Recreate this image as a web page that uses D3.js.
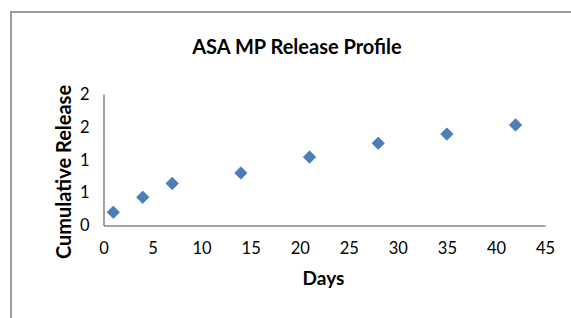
<!DOCTYPE html>
<html>
<head>
<meta charset="utf-8">
<script src="https://cdn.jsdelivr.net/npm/d3@7"></script>
<style>
  html, body { margin: 0; padding: 0; background: #fff; }
  svg { display: block; }
  text { font-family: Lato, "Open Sans", sans-serif; fill: #000; }
</style>
</head>
<body>
<svg id="chart" width="571" height="318"></svg>
<script>
const days = [1, 4, 7, 14, 21, 28, 35, 42];
const release = [0.20, 0.43, 0.64, 0.80, 1.04, 1.25, 1.39, 1.53];
const xTicks = [0, 5, 10, 15, 20, 25, 30, 35, 40, 45];
const yTicks = [0, 0.5, 1, 1.5, 2];
const yTickLabels = ["0", "1", "1", "2", "2"];
const title = "ASA MP Release Profile";
const xTitle = "Days";
const yTitle = "Cumulative Release";

const svg = d3.select("#chart");

// outer chart frame
svg.append("rect")
  .attr("x", 11).attr("y", 12)
  .attr("width", 620).attr("height", 400)
  .attr("fill", "none")
  .attr("stroke", "#9c9c9c")
  .attr("stroke-width", 2);

const x = d3.scaleLinear().domain([0, 45]).range([103.5, 545]);
const y = d3.scaleLinear().domain([0, 2]).range([225.5, 94]);

// x axis
const xAxis = svg.append("g")
  .attr("transform", `translate(0,${y(0)})`)
  .call(d3.axisBottom(x).tickValues(xTicks).tickSize(0).tickPadding(17).tickFormat(d3.format("d")));
xAxis.select(".domain").attr("stroke", "#868686").attr("stroke-width", 1.5);
xAxis.selectAll("text").attr("font-size", 16.5).attr("font-family", "Lato, sans-serif").attr("fill", "#000");

// y axis
const yAxis = svg.append("g")
  .attr("transform", `translate(${x(0)},0)`)
  .call(d3.axisLeft(y).tickValues(yTicks).tickSize(0).tickPadding(14)
    .tickFormat((d, i) => yTickLabels[i]));
yAxis.select(".domain").attr("stroke", "#868686").attr("stroke-width", 1.5);
yAxis.selectAll("text").attr("font-size", 16.5).attr("font-family", "Lato, sans-serif").attr("fill", "#000");

// titles
svg.append("text")
  .attr("x", 297).attr("y", 53.5)
  .attr("text-anchor", "middle")
  .attr("font-size", 20).attr("font-weight", "bold")
  .text(title);

svg.append("text")
  .attr("x", 323.5).attr("y", 284.5)
  .attr("text-anchor", "middle")
  .attr("font-size", 19).attr("font-weight", "bold")
  .text(xTitle);

svg.append("text")
  .attr("transform", "translate(70.5,172) rotate(-90)")
  .attr("text-anchor", "middle")
  .attr("font-size", 20).attr("font-weight", "bold")
  .text(yTitle);

// markers
const diamond = d3.symbol().type(d3.symbolSquare).size(78);
svg.append("g").selectAll("path")
  .data(days.map((d, i) => ({ d, v: release[i] })))
  .join("path")
  .attr("d", diamond)
  .attr("transform", p => `translate(${x(p.d)},${y(p.v)}) rotate(45)`)
  .attr("fill", "#4a7ebb")
  .attr("stroke", "#3d6fa8")
  .attr("stroke-width", 0.6);
</script>
</body>
</html>
